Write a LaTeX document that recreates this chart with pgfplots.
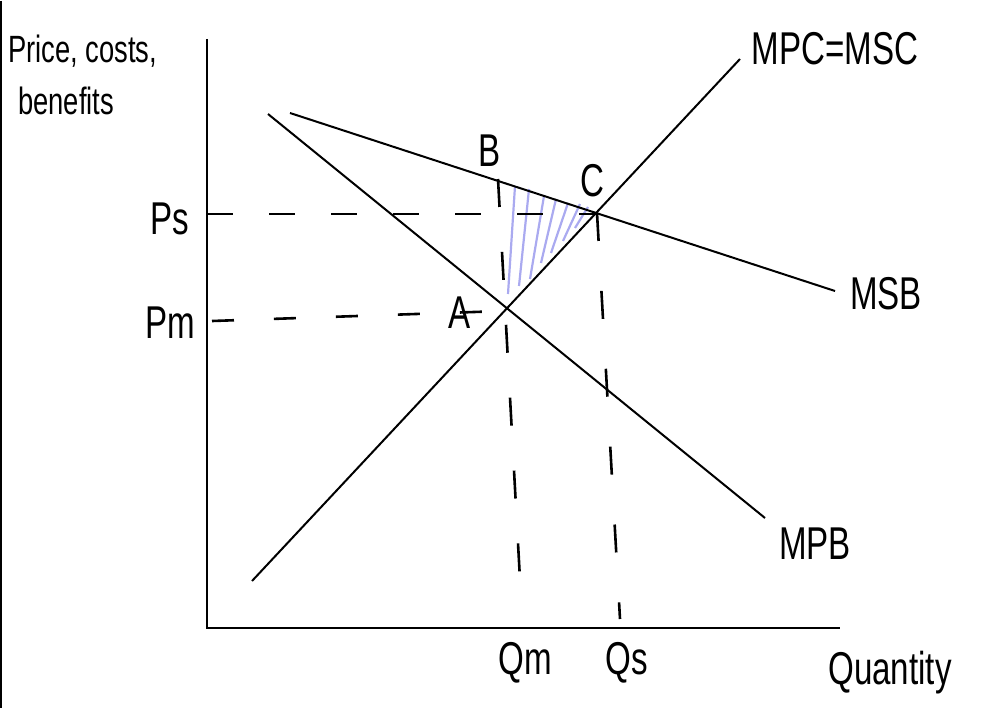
\documentclass[border=0pt]{standalone}
\usepackage{pgfplots}
\pgfplotsset{compat=1.18}
\usepackage{fontspec}
\setmainfont[FakeStretch=0.72]{Liberation Sans}
\definecolor{hatch}{RGB}{170,170,240}
\newcommand\lbl{\fontsize{46}{48}\selectfont}
\newcommand\lbs{\fontsize{38}{40}\selectfont}
\begin{document}
\begin{tikzpicture}
\begin{axis}[scale only axis, width=990pt, height=707pt,
  xmin=0, xmax=990, ymin=0, ymax=707, y dir=reverse,
  hide axis, clip=false]
% frame extent
\addplot[draw=none] coordinates {(0,0) (990,707)};
% left border
\addplot[black, line width=2pt] coordinates {(1,0) (1,707)};
% axes
\addplot[black, line width=2.8pt] coordinates {(207,38) (207,627) (840,627)};
% hatched triangle (deadweight gain)
\addplot[hatch, line width=2.2pt] coordinates {(508,293) (515,185)};
\addplot[hatch, line width=2.2pt] coordinates {(519,285) (529,188)};
\addplot[hatch, line width=2.2pt] coordinates {(530,278) (544,195)};
\addplot[hatch, line width=2.2pt] coordinates {(541,262) (556,198)};
\addplot[hatch, line width=2.2pt] coordinates {(551,252) (568,202)};
\addplot[hatch, line width=2.2pt] coordinates {(563,240) (580,203)};
\addplot[hatch, line width=2.2pt] coordinates {(575,227) (588,206)};
% curves
\addplot[black, line width=2pt] coordinates {(252,580) (740,58)};   % MPC = MSC
\addplot[black, line width=2pt] coordinates {(268,113) (765,517)};  % MPB
\addplot[black, line width=2pt] coordinates {(290,112) (835,290)};  % MSB
% dashed guides
\addplot[black, line width=2.6pt, dash pattern=on 26pt off 36pt] coordinates {(207,213) (597,213)};
\addplot[black, line width=2.6pt, dash pattern=on 22pt off 40pt] coordinates {(212,320) (503,310)};
\addplot[black, line width=2.6pt, dash pattern=on 28pt off 45pt] coordinates {(498,178) (522,615)};
\addplot[black, line width=2.6pt, dash pattern=on 28pt off 50pt] coordinates {(597,212) (620,618)};
% labels
\node[font=\lbs, anchor=west, inner sep=0pt] at (axis cs:8,50) {Price, costs,};
\node[font=\lbs, anchor=west, inner sep=0pt] at (axis cs:18,100) {benefits};
\node[font=\lbl, inner sep=0pt] at (axis cs:835,48) {MPC=MSC};
\node[font=\lbl, inner sep=0pt] at (axis cs:886,293) {MSB};
\node[font=\lbl, inner sep=0pt] at (axis cs:815,543) {MPB};
\node[font=\lbl, inner sep=0pt] at (axis cs:170,218) {Ps};
\node[font=\lbl, inner sep=0pt] at (axis cs:170,322) {Pm};
\node[font=\lbl, inner sep=0pt] at (axis cs:460,312) {A};
\node[font=\lbl, inner sep=0pt] at (axis cs:490,150) {B};
\node[font=\lbl, inner sep=0pt] at (axis cs:592,180) {C};
\node[font=\lbl, inner sep=0pt] at (axis cs:525,662) {Qm};
\node[font=\lbl, inner sep=0pt] at (axis cs:627,662) {Qs};
\node[font=\lbl, inner sep=0pt] at (axis cs:890,672) {Quantity};
\end{axis}
\end{tikzpicture}
\end{document}
